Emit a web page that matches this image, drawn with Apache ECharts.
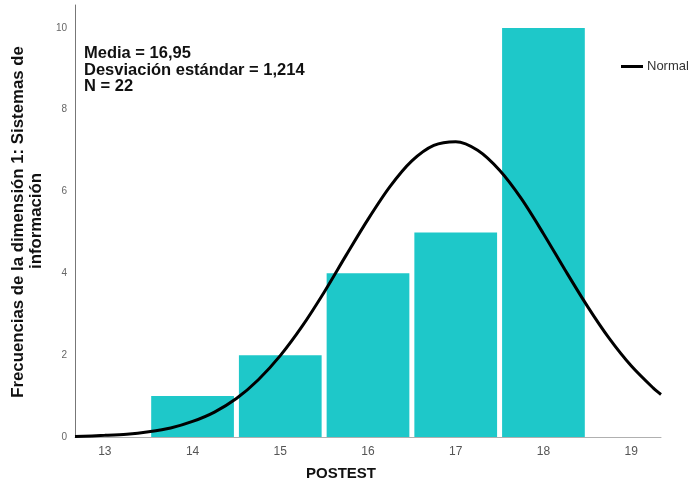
<!DOCTYPE html>
<html>
<head>
<meta charset="utf-8">
<script src="https://cdn.jsdelivr.net/npm/echarts@6/dist/echarts.min.js"></script>
<style>
  html, body { margin: 0; padding: 0; background: #fff; }
  #chart { width: 693px; height: 488px; }
</style>
</head>
<body>
<div id="chart"></div>
<script>
// histograma POSTEST
var binCenters = [14, 15, 16, 17, 18]
var binCounts = [1, 2, 4, 5, 10]
var xTickLabels = [13, 14, 15, 16, 17, 18, 19]

// curva normal
var curveX = [12.66, 13, 13.25, 13.5, 13.75, 14, 14.25, 14.5, 14.75, 15, 15.25, 15.5, 15.75, 16, 16.25, 16.5, 16.75, 17, 17.25, 17.5, 17.75, 18, 18.25, 18.5, 18.75, 19, 19.25, 19.34]
var curveY = [0.01, 0.04, 0.07, 0.13, 0.22, 0.38, 0.61, 0.94, 1.4, 1.99, 2.71, 3.54, 4.44, 5.32, 6.12, 6.75, 7.13, 7.22, 7.01, 6.52, 5.82, 4.97, 4.07, 3.2, 2.41, 1.74, 1.2, 1.04]

var statsLines = ['Media = 16,95', 'Desviación estándar = 1,214', 'N = 22']

const barData = binCenters.map((c, i) => [c, binCounts[i]])
const curveData = curveX.map((x, i) => [x, curveY[i]])

const chart = echarts.init(document.getElementById('chart'))

const option = {
  animation: false,
  grid: { left: 75, right: 32, top: 5, bottom: 51 },
  legend: {
    left: 616,
    top: 55,
    itemWidth: 22,
    itemHeight: 3,
    itemGap: 4,
    icon: 'rect',
    data: ['Normal'],
    textStyle: { fontFamily: 'Liberation Sans', fontSize: 13, color: '#333', padding: [0, 0, 0, -1] }
  },
  xAxis: {
    type: 'value',
    min: 12.66,
    max: 19.34,
    splitLine: { show: false },
    axisTick: { show: false },
    axisLine: { lineStyle: { color: '#b0b0b0', width: 1 } },
    axisLabel: {
      customValues: xTickLabels,
      margin: 9,
      color: '#555',
      fontFamily: 'Liberation Sans',
      fontSize: 12
    }
  },
  yAxis: {
    type: 'value',
    min: 0,
    max: 10.56,
    interval: 2,
    splitLine: { show: false },
    axisTick: { show: false },
    axisLine: { show: true, lineStyle: { color: '#777', width: 1 } },
    axisLabel: {
      showMaxLabel: false,
      margin: 8,
      color: '#666',
      fontFamily: 'Liberation Sans',
      fontSize: 10
    }
  },
  series: [
    {
      type: 'custom',
      name: 'Frecuencia',
      data: barData,
      renderItem (params, api) {
        const x = api.value(0)
        const y = api.value(1)
        const p0 = api.coord([x - 0.5, y])
        const p1 = api.coord([x + 0.5, 0])
        return {
          type: 'rect',
          shape: { x: p0[0] + 2.5, y: p0[1], width: p1[0] - p0[0] - 5, height: p1[1] - p0[1] },
          style: { fill: '#1ec8c9' }
        }
      },
      z: 1
    },
    {
      type: 'line',
      name: 'Normal',
      data: curveData,
      smooth: 0.3,
      showSymbol: false,
      lineStyle: { color: '#000', width: 3 },
      itemStyle: { color: '#000' },
      z: 3
    }
  ],
  graphic: [
    {
      type: 'text',
      left: 84,
      top: 45,
      style: {
        text: statsLines.join('\n'),
        font: 'bold 16.5px "Liberation Sans"',
        lineHeight: 16.5,
        fill: '#111'
      }
    },
    {
      type: 'text',
      x: 18,
      y: 222,
      rotation: Math.PI / 2,
      style: {
        text: 'Frecuencias de la dimensión 1: Sistemas de',
        font: 'bold 16.8px "Liberation Sans"',
        fill: '#111',
        align: 'center',
        verticalAlign: 'middle'
      }
    },
    {
      type: 'text',
      x: 36,
      y: 221,
      rotation: Math.PI / 2,
      style: {
        text: 'información',
        font: 'bold 16.8px "Liberation Sans"',
        fill: '#111',
        align: 'center',
        verticalAlign: 'middle'
      }
    },
    {
      type: 'text',
      x: 341,
      y: 474,
      style: {
        text: 'POSTEST',
        font: 'bold 15px "Liberation Sans"',
        fill: '#111',
        align: 'center',
        verticalAlign: 'middle'
      }
    }
  ]
}

chart.setOption(option)
</script>
</body>
</html>
